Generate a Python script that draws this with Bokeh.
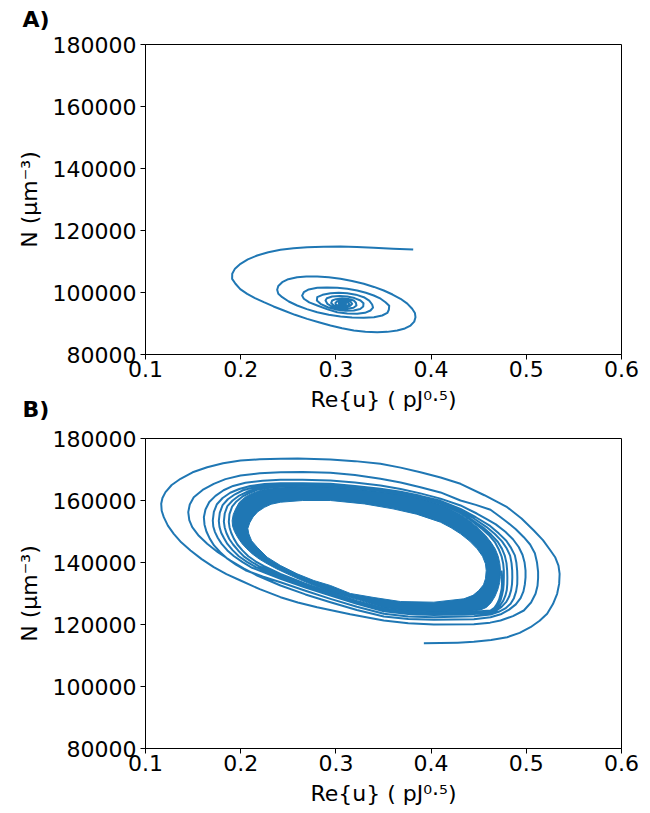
from bokeh.plotting import figure
from bokeh.layouts import column
from bokeh.models import Range1d, FixedTicker, Title
from bokeh.embed import file_html
from bokeh.resources import INLINE

# ---------------- data ----------------
x_ticks = [0.1, 0.2, 0.3, 0.4, 0.5, 0.6]
x_tick_labels = ["0.1", "0.2", "0.3", "0.4", "0.5", "0.6"]
y_ticks = [80000, 100000, 120000, 140000, 160000, 180000]
y_tick_labels = ["80000", "100000", "120000", "140000", "160000", "180000"]

x_label = "Re{u} ( pJ\u2070\u00b7\u2075)"
y_label = "N (\u03bcm\u207b\u00b3)"
panel_labels = ["A)", "B)"]

# Panel A: damped spiral
a_x = [0.3812, 0.3600, 0.3398, 0.3220, 0.3048, 0.2870, 0.2698, 0.2555, 0.2418, 0.2290,
       0.2173, 0.2075, 0.1998, 0.1940, 0.1911, 0.1910, 0.1945, 0.1995, 0.2068, 0.2150,
       0.2243, 0.2345, 0.2453, 0.2570, 0.2698, 0.2820, 0.2943, 0.3065, 0.3188, 0.3310,
       0.3434, 0.3540, 0.3644, 0.3725, 0.3784, 0.3823, 0.3836, 0.3830, 0.3801, 0.3750,
       0.3679, 0.3595, 0.3503, 0.3400, 0.3293, 0.3170, 0.3048, 0.2925, 0.2804, 0.2690,
       0.2593, 0.2500, 0.2436, 0.2395, 0.2383, 0.2395, 0.2436, 0.2505, 0.2593, 0.2695,
       0.2804, 0.2925, 0.3048, 0.3170, 0.3293, 0.3400, 0.3486, 0.3540, 0.3556, 0.3560,
       0.3521, 0.3470, 0.3398, 0.3315, 0.3224, 0.3120, 0.3014, 0.2905, 0.2804, 0.2715,
       0.2663, 0.2645, 0.2663, 0.2720, 0.2804, 0.2905, 0.3014, 0.3120, 0.3224, 0.3305,
       0.3363, 0.3390, 0.3381, 0.3350, 0.3293, 0.3210, 0.3119, 0.3030, 0.2943, 0.2860,
       0.2804, 0.2800, 0.2838, 0.2915, 0.3014, 0.3100, 0.3188, 0.3255, 0.3287, 0.3290,
       0.3258, 0.3195, 0.3119, 0.3040, 0.2961, 0.2905, 0.2891, 0.2910, 0.2961, 0.3040,
       0.3119, 0.3185, 0.3216, 0.3210, 0.3188, 0.3130, 0.3066, 0.3000, 0.2961, 0.2950,
       0.2978, 0.3040, 0.3101, 0.3150, 0.3171, 0.3155, 0.3119, 0.3060, 0.3014, 0.2995,
       0.3000, 0.3040, 0.3090, 0.3130, 0.3140, 0.3125, 0.3090, 0.3050, 0.3030, 0.3035,
       0.3050, 0.3080, 0.3100, 0.3105, 0.3080, 0.3060, 0.3055, 0.3062, 0.3070]
a_y = [113870, 114150, 114420, 114650, 114840, 114780, 114610, 114300, 113770, 113000,
       111940, 110700, 109260, 107700, 106030, 104400, 102810, 101100, 99580, 98200,
       96870, 95500, 94190, 92800, 91500, 90400, 89350, 88450, 87740, 87350,
       87200, 87300, 87740, 88400, 89350, 90600, 92030, 93400, 94740, 96400,
       97970, 99350, 100650, 101800, 102810, 103700, 104420, 104900, 105160, 105150,
       104940, 104300, 103320, 102100, 100870, 99600, 98480, 97100, 95810, 94650,
       93650, 92850, 92260, 91950, 91840, 92000, 92580, 93400, 94420, 95700,
       96870, 98000, 99030, 99900, 100650, 101200, 101520, 101650, 101520, 101000,
       100100, 99000, 97970, 96800, 95810, 94650, 93650, 93200, 93130, 93450,
       94190, 95150, 96130, 97400, 98480, 99300, 99770, 99950, 99770, 99250,
       98480, 97400, 96350, 95250, 94420, 94130, 94190, 94700, 95480, 96500,
       97420, 98200, 98710, 98850, 98710, 98150, 97420, 96350, 95480, 94950,
       94740, 95100, 95810, 96700, 97420, 97900, 98060, 97850, 97420, 96600,
       95810, 95350, 95260, 95700, 96350, 97000, 97420, 97450, 97200, 96600,
       96100, 95700, 95600, 95900, 96300, 96750, 97000, 96900, 96600, 96150,
       95900, 95850, 96000, 96300, 96500, 96450, 96300, 96150, 96100]

# Panel B: spiral settling onto a limit cycle
b_tail_x = [0.3924, 0.4099, 0.4280, 0.4449, 0.4630, 0.4799, 0.4930, 0.5044, 0.5140, 0.5219,
            0.5280, 0.5324, 0.5345]
b_tail_y = [113970, 114000, 114150, 114400, 115000, 115900, 117300, 119130, 121200, 123450,
            126600, 129900, 133100]

b_loop1_x = [0.5350, 0.5338, 0.5305, 0.5254, 0.5175, 0.5079, 0.4950, 0.4799, 0.4560, 0.4309,
             0.4100, 0.3888, 0.3680, 0.3468, 0.3200, 0.2943, 0.2600, 0.2418, 0.2200, 0.1998,
             0.1815, 0.1648, 0.1495, 0.1368, 0.1275, 0.1210, 0.1178, 0.1165, 0.1170, 0.1192,
             0.1235, 0.1297, 0.1375, 0.1473, 0.1590, 0.1717, 0.1850, 0.1998, 0.2200, 0.2418,
             0.2600, 0.2803, 0.3150, 0.3503, 0.3760, 0.4029, 0.4449, 0.4620, 0.4729, 0.4860,
             0.4974, 0.5050, 0.5097, 0.5118, 0.5124]
b_loop1_y = [136300, 139000, 141600, 143870, 147200, 150320, 154200, 157840, 161700, 165380,
             167400, 169130, 170600, 171830, 172700, 173230, 173550, 173450, 173300, 172900,
             172000, 170740, 169100, 167000, 165000, 162690, 160800, 158940, 156700, 154620,
             151900, 149250, 146500, 143870, 141100, 138490, 136250, 134190, 131400, 128810,
             127100, 125580, 123300, 121290, 120400, 120000, 120100, 120600, 121290, 122700,
             124520, 127100, 129900, 132500, 135000]

b_loop2_x = [0.5124, 0.5112, 0.5090, 0.5040, 0.4974, 0.4890, 0.4800, 0.4710, 0.4624, 0.4470,
             0.4309, 0.4099, 0.3888, 0.3680, 0.3468, 0.3200, 0.2943, 0.2650, 0.2418, 0.2200,
             0.1998, 0.1840, 0.1717, 0.1600, 0.1507, 0.1465, 0.1449, 0.1460, 0.1491, 0.1560,
             0.1648, 0.1760, 0.1893, 0.2030, 0.2173, 0.2418, 0.2680, 0.2943, 0.3220, 0.3503,
             0.3760, 0.4029, 0.4449, 0.4624, 0.4740, 0.4820, 0.4890, 0.4940, 0.4970, 0.4985,
             0.4992]
b_loop2_y = [137000, 140100, 143000, 145800, 148160, 150700, 153000, 155100, 157000, 158600,
             160000, 162600, 164300, 165800, 167000, 168200, 168920, 169200, 169130, 168800,
             168060, 166900, 165380, 163400, 161060, 158700, 156240, 153700, 151400, 148600,
             146030, 143300, 140650, 138100, 135810, 132580, 129700, 127200, 124700, 122580,
             121800, 121500, 121700, 122350, 123400, 124800, 126500, 128500, 130700, 133000,
             135200]

b_loop3_x = [0.4992, 0.4982, 0.4960, 0.4920, 0.4860, 0.4780, 0.4680, 0.4580, 0.4480, 0.4309,
             0.4099, 0.3888, 0.3680, 0.3468, 0.3200, 0.2943, 0.2650, 0.2418, 0.2230, 0.2050,
             0.1920, 0.1820, 0.1735, 0.1670, 0.1630, 0.1613, 0.1620, 0.1640, 0.1675, 0.1720,
             0.1785, 0.1860, 0.1950, 0.2050, 0.2230, 0.2418, 0.2680, 0.2943, 0.3220, 0.3503,
             0.3760, 0.4029, 0.4449, 0.4624, 0.4710, 0.4780, 0.4835, 0.4870, 0.4893, 0.4905,
             0.4906]
b_loop3_y = [137400, 140000, 142500, 145000, 147500, 149900, 152300, 154100, 155800, 158400,
             160600, 162300, 163700, 164840, 165800, 166450, 166700, 166670, 166400, 165700,
             164700, 163300, 161500, 159500, 157100, 154620, 152200, 150000, 147700, 145500,
             143300, 141200, 139300, 137500, 135500, 133650, 130900, 128280, 125700, 123450,
             122600, 122350, 122700, 123230, 124100, 125200, 126700, 128500, 130700, 133000,
             135200]

b_loop4_x = [0.4904, 0.4896, 0.4880, 0.4840, 0.4790, 0.4710, 0.4620, 0.4470, 0.4309, 0.4099,
             0.3888, 0.3680, 0.3468, 0.3200, 0.2943, 0.2650, 0.2418, 0.2250, 0.2100, 0.1985,
             0.1890, 0.1810, 0.1750, 0.1718, 0.1707, 0.1712, 0.1730, 0.1760, 0.1800, 0.1860,
             0.1930, 0.2020, 0.2120, 0.2270, 0.2418, 0.2680, 0.2943, 0.3220, 0.3503, 0.3760,
             0.4029, 0.4449, 0.4624, 0.4690, 0.4740, 0.4790, 0.4820, 0.4840, 0.4850, 0.4853]
b_loop4_y = [137400, 139900, 142300, 144700, 147000, 149400, 151800, 154600, 157300, 159900,
             161500, 162800, 163800, 164700, 165400, 165600, 165590, 165300, 164700, 163700,
             162500, 160800, 158800, 156300, 153550, 151600, 149800, 147900, 146000, 143900,
             142000, 140100, 138300, 136500, 134740, 131900, 129350, 126700, 124300, 123400,
             123100, 123400, 123760, 124600, 125700, 127300, 129000, 131000, 133000, 135200]

b_loop5_x = [0.4852, 0.4845, 0.4830, 0.4795, 0.4745, 0.4670, 0.4580, 0.4450, 0.4309, 0.4099,
             0.3888, 0.3680, 0.3468, 0.3200, 0.2943, 0.2650, 0.2418, 0.2270, 0.2130, 0.2025,
             0.1940, 0.1865, 0.1810, 0.1780, 0.1770, 0.1777, 0.1795, 0.1825, 0.1860, 0.1915,
             0.1980, 0.2065, 0.2160, 0.2290, 0.2418, 0.2680, 0.2943, 0.3220, 0.3503, 0.3760,
             0.4029, 0.4449, 0.4624, 0.4680, 0.4720, 0.4757, 0.4780, 0.4795, 0.4800, 0.4801]
b_loop5_y = [137400, 139800, 142200, 144500, 146800, 149200, 151500, 154200, 156800, 159400,
             161200, 162400, 163400, 164300, 165000, 165200, 165100, 164800, 164200, 163300,
             162000, 160400, 158500, 156000, 153400, 151500, 149600, 147800, 146000, 144000,
             142000, 140200, 138500, 136900, 135400, 132500, 129800, 127100, 124700, 123700,
             123400, 123700, 124100, 124900, 126000, 127600, 129300, 131100, 133000, 135200]

b_loop6_x = [0.4799, 0.4792, 0.4775, 0.4745, 0.4700, 0.4630, 0.4550, 0.4430, 0.4309, 0.4099,
             0.3888, 0.3680, 0.3468, 0.3200, 0.2943, 0.2650, 0.2418, 0.2285, 0.2160, 0.2065,
             0.1985, 0.1915, 0.1860, 0.1832, 0.1823, 0.1832, 0.1850, 0.1880, 0.1920, 0.1975,
             0.2040, 0.2115, 0.2200, 0.2310, 0.2418, 0.2680, 0.2943, 0.3220, 0.3503, 0.3760,
             0.4029, 0.4449, 0.4624, 0.4670, 0.4700, 0.4730, 0.4745, 0.4757, 0.4762, 0.4764]
b_loop6_y = [137400, 139800, 142100, 144400, 146700, 149000, 151200, 153800, 156300, 159100,
             161000, 162200, 163200, 164100, 164800, 165000, 164800, 164400, 163800, 162800,
             161600, 160000, 158200, 155800, 153200, 151300, 149500, 147600, 145800, 143800,
             141800, 140200, 138700, 137300, 135900, 132900, 130100, 127400, 125000, 123900,
             123600, 123900, 124300, 125100, 126200, 127800, 129500, 131200, 133000, 135200]

b_loop7_x = [0.4764, 0.4757, 0.4740, 0.4710, 0.4670, 0.4605, 0.4525, 0.4420, 0.4309, 0.4099,
             0.3888, 0.3680, 0.3468, 0.3200, 0.2943, 0.2650, 0.2418, 0.2295, 0.2180, 0.2095,
             0.2020, 0.1955, 0.1910, 0.1882, 0.1875, 0.1883, 0.1900, 0.1928, 0.1965, 0.2018,
             0.2080, 0.2155, 0.2240, 0.2330, 0.2418, 0.2680, 0.2943, 0.3220, 0.3503, 0.3760,
             0.4029, 0.4449, 0.4624, 0.4665, 0.4690, 0.4715, 0.4730, 0.4742, 0.4745, 0.4744,
             0.4740]
b_loop7_y = [137400, 139700, 142000, 144300, 146600, 148900, 151100, 153600, 156000, 158900,
             160850, 162050, 163050, 163950, 164600, 164800, 164550, 164100, 163500, 162500,
             161300, 159700, 158000, 155600, 153100, 151300, 149600, 147700, 145800, 143900,
             142000, 140400, 138900, 137600, 136300, 133200, 130300, 127600, 125200, 124100,
             123800, 124100, 124500, 125400, 126500, 128100, 129800, 131600, 133500, 135500,
             137400]

# dense band of the settled orbit: outer and inner edges
band_outer_x = [0.4729, 0.4722, 0.4705, 0.4675, 0.4630, 0.4570, 0.4500, 0.4410, 0.4309, 0.4099,
                0.3888, 0.3680, 0.3468, 0.3200, 0.2943, 0.2650, 0.2418, 0.2300, 0.2200, 0.2110,
                0.2040, 0.1985, 0.1950, 0.1922, 0.1910, 0.1915, 0.1935, 0.1970, 0.2015, 0.2065,
                0.2120, 0.2195, 0.2278, 0.2380, 0.2488, 0.2620, 0.2768, 0.2943, 0.3250, 0.3503,
                0.3760, 0.4029, 0.4400, 0.4520, 0.4580, 0.4630, 0.4670, 0.4700, 0.4720, 0.4728]
band_outer_y = [137400, 139700, 142000, 144300, 146500, 148800, 151000, 153300, 155600, 158700,
                160700, 161900, 162900, 163800, 164400, 164600, 164300, 163900, 163200, 162200,
                161000, 159400, 157500, 155500, 153500, 151700, 150000, 148000, 146030, 144400,
                142810, 141100, 139580, 137900, 136350, 134500, 132580, 130420, 127800, 125300,
                124300, 123970, 124200, 124700, 125500, 127000, 129000, 131200, 133500, 135500]
band_inner_x = [0.4579, 0.4571, 0.4540, 0.4484, 0.4405, 0.4309, 0.4210, 0.4099, 0.3846, 0.3600,
                0.3300, 0.2943, 0.2650, 0.2418, 0.2320, 0.2250, 0.2180, 0.2130, 0.2095, 0.2075,
                0.2085, 0.2115, 0.2173, 0.2278, 0.2418, 0.2593, 0.2768, 0.2943, 0.3153, 0.3400,
                0.3679, 0.4029, 0.4344, 0.4440, 0.4501, 0.4550, 0.4571]
band_inner_y = [137400, 139580, 142000, 144410, 146900, 149250, 151200, 153000, 155600, 157300,
                158900, 160000, 160000, 159450, 158800, 157800, 156400, 154700, 152800, 151000,
                149250, 147000, 144940, 141710, 139030, 136350, 134190, 132580, 130000, 128700,
                127400, 127200, 128290, 129400, 130970, 132800, 134740]

LINE = "#1f77b4"
FONT = "DejaVu Sans"

b_x = b_tail_x + b_loop1_x + b_loop2_x + b_loop3_x + b_loop4_x + b_loop5_x + b_loop6_x + b_loop7_x
b_y = b_tail_y + b_loop1_y + b_loop2_y + b_loop3_y + b_loop4_y + b_loop5_y + b_loop6_y + b_loop7_y


def make_fig(height, top, bottom, margin):
    p = figure(width=650, height=height, output_backend="svg", toolbar_location=None,
               x_range=Range1d(0.1, 0.6), y_range=Range1d(80000, 180000),
               min_border_left=145, min_border_right=29,
               min_border_top=top, min_border_bottom=bottom, margin=margin)
    p.grid.visible = False
    p.outline_line_color = "black"
    p.outline_line_alpha = 1.0
    p.outline_line_width = 1
    p.background_fill_color = "white"
    p.xaxis.ticker = FixedTicker(ticks=x_ticks)
    p.yaxis.ticker = FixedTicker(ticks=y_ticks)
    p.xaxis.major_label_overrides = dict(zip(x_ticks, x_tick_labels))
    p.yaxis.major_label_overrides = dict(zip(y_ticks, y_tick_labels))
    for ax in (p.xaxis[0], p.yaxis[0]):
        ax.axis_line_color = "black"
        ax.major_tick_line_color = "black"
        ax.major_tick_out = 5
        ax.major_tick_in = 0
        ax.minor_tick_line_color = None
        ax.major_label_text_font = FONT
        ax.major_label_text_font_size = "22px"
        ax.major_label_text_color = "black"
        ax.axis_label_text_font = FONT
        ax.axis_label_text_font_size = "22px"
        ax.axis_label_text_font_style = "normal"
        ax.axis_label_text_color = "black"
    p.xaxis.axis_label = x_label
    p.yaxis.axis_label = y_label
    p.xaxis.major_label_standoff = 1
    p.xaxis.axis_label_standoff = 7
    p.yaxis.major_label_standoff = 4
    p.yaxis.axis_label_standoff = 8
    return p


def panel_title(text, standoff):
    return Title(text=text, align="left", offset=-123, standoff=standoff,
                 text_font=FONT, text_font_size="22px", text_font_style="bold",
                 text_color="black")


# panel A (canvas starts a little above the page top so the frame sits at y=44)
p1 = make_fig(429, 52, 67, (-8, 0, 0, 0))
p1.border_fill_color = "white"
p1.add_layout(panel_title(panel_labels[0], 25), "above")
p1.line(a_x, a_y, line_color=LINE, line_width=2, line_join="round")

# panel B (its transparent top border overlaps the bottom of panel A's canvas)
p2 = make_fig(435, 60, 65, (-43, 0, 0, 0))
p2.border_fill_alpha = 0.0
p2.add_layout(panel_title(panel_labels[1], 33), "above")
p2.multi_polygons(xs=[[[band_outer_x, band_inner_x]]], ys=[[[band_outer_y, band_inner_y]]],
                  fill_color=LINE, line_color=LINE, line_width=1)
p2.line(b_x, b_y, line_color=LINE, line_width=2, line_join="round")

layout = column(p1, p2, spacing=0)
open("out.html", "w").write(file_html(layout, INLINE))
